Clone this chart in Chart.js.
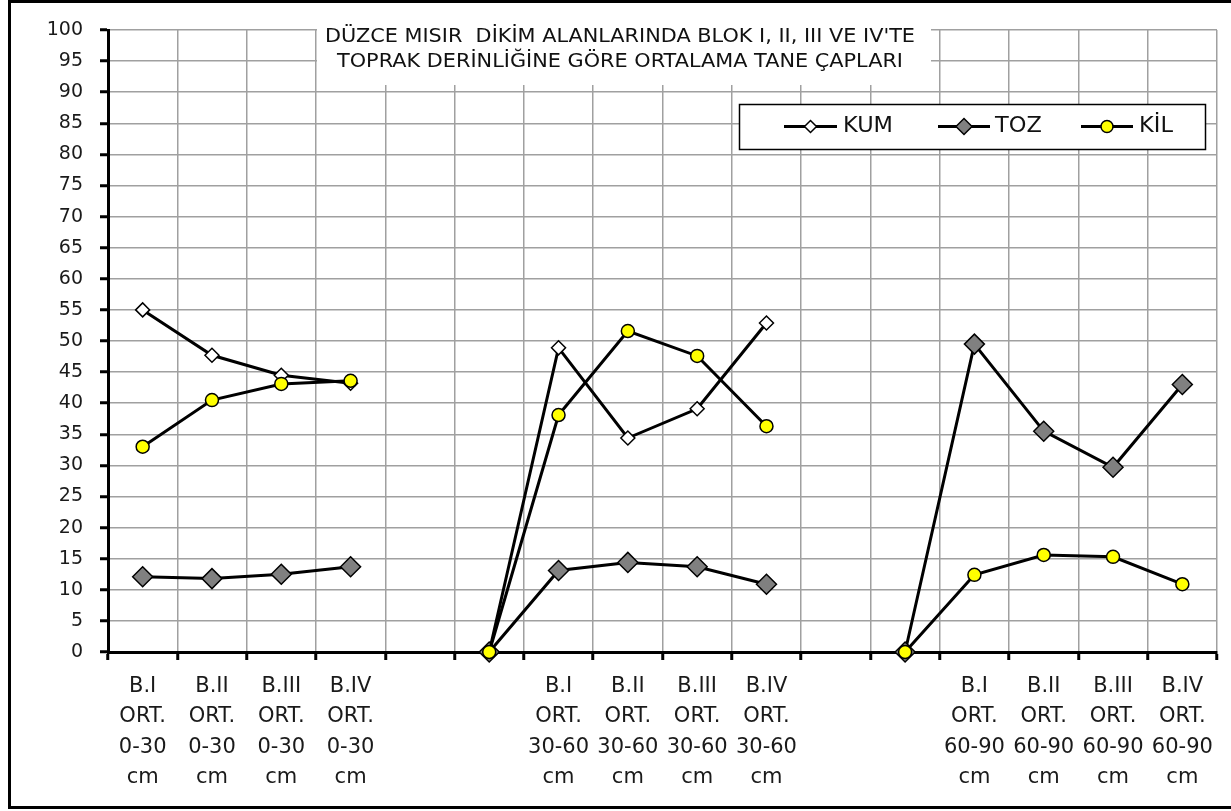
<!DOCTYPE html>
<html>
<head>
<meta charset="utf-8">
<script src="https://cdn.jsdelivr.net/npm/chart.js@4/dist/chart.umd.min.js"></script>
<style>
  html, body { margin: 0; padding: 0; background: #fff; }
  #wrap { width: 1231px; height: 811px; position: relative; }
</style>
</head>
<body>
<div id="wrap"><canvas id="c" width="1231" height="811"></canvas></div>
<script>
// ---- data ----
const titleLines = ["DÜZCE MISIR  DİKİM ALANLARINDA BLOK I, II, III VE IV'TE", "TOPRAK DERİNLİĞİNE GÖRE ORTALAMA TANE ÇAPLARI"];
const seriesNames = ['KUM', 'TOZ', 'KİL'];
const xLabels = [
  ['B.I', 'ORT.', '0-30', 'cm'], ['B.II', 'ORT.', '0-30', 'cm'], ['B.III', 'ORT.', '0-30', 'cm'], ['B.IV', 'ORT.', '0-30', 'cm'],
  '', '',
  ['B.I', 'ORT.', '30-60', 'cm'], ['B.II', 'ORT.', '30-60', 'cm'], ['B.III', 'ORT.', '30-60', 'cm'], ['B.IV', 'ORT.', '30-60', 'cm'],
  '', '',
  ['B.I', 'ORT.', '60-90', 'cm'], ['B.II', 'ORT.', '60-90', 'cm'], ['B.III', 'ORT.', '60-90', 'cm'], ['B.IV', 'ORT.', '60-90', 'cm']
];
const kum = [55.0, 47.7, 44.5, 43.2, null, 0, 48.9, 34.4, 39.1, 52.9, null, null, null, null, null, null];
const toz = [12.1, 11.8, 12.5, 13.7, null, 0, 13.1, 14.4, 13.7, 10.9, null, 0, 49.5, 35.5, 29.7, 43.0];
const kil = [33.0, 40.5, 43.1, 43.6, null, 0, 38.1, 51.6, 47.6, 36.3, null, 0, 12.4, 15.6, 15.3, 10.9];
const yMin = 0, yMax = 100, yStep = 5;

const FONT = '"DejaVu Sans", "Liberation Sans", sans-serif';

const framePlugin = {
  id: 'frame',
  beforeDraw(chart) {
    const ctx = chart.ctx;
    ctx.save();
    ctx.fillStyle = '#fff';
    ctx.fillRect(0, 0, chart.width, chart.height);
    ctx.restore();
  },
  afterDraw(chart) {
    const ctx = chart.ctx;
    ctx.save();
    // title box
    ctx.fillStyle = '#fff';
    ctx.fillRect(317, 18, 614, 67);
    ctx.fillStyle = '#111';
    ctx.font = '19px ' + FONT;
    ctx.textAlign = 'center';
    ctx.textBaseline = 'middle';
    const w0 = ctx.measureText(titleLines[0]).width;
    const sx = 590 / w0;
    const ys = [37.5, 62];
    titleLines.forEach((t, i) => {
      ctx.save();
      ctx.translate(620, ys[i]);
      ctx.scale(sx, 1);
      ctx.fillText(t, 0, 0);
      ctx.restore();
    });

    // legend
    ctx.fillStyle = '#fff';
    ctx.fillRect(739, 104, 466, 45);
    ctx.strokeStyle = '#000';
    ctx.lineWidth = 1.5;
    ctx.strokeRect(739.5, 104.5, 466, 45);
    const ly = 126.5;
    const items = [
      { x0: 784, x1: 837, tx: 843, ds: chart.data.datasets[0], r: 6 },
      { x0: 938, x1: 990, tx: 995, ds: chart.data.datasets[1], r: 8 },
      { x0: 1081, x1: 1133, tx: 1139, ds: chart.data.datasets[2], r: 6 }
    ];
    ctx.font = '21px ' + FONT;
    const kw = ctx.measureText(seriesNames[0]).width;
    const lsx = 50 / kw;
    items.forEach(it => {
      ctx.strokeStyle = '#000';
      ctx.lineWidth = 3;
      ctx.beginPath();
      ctx.moveTo(it.x0, ly);
      ctx.lineTo(it.x1, ly);
      ctx.stroke();
      const cx = (it.x0 + it.x1) / 2;
      ctx.fillStyle = it.ds.pointBackgroundColor;
      ctx.lineWidth = 1.5;
      ctx.beginPath();
      if (it.ds.pointStyle === 'circle') {
        ctx.arc(cx, ly, it.r, 0, Math.PI * 2);
      } else {
        ctx.moveTo(cx - it.r, ly);
        ctx.lineTo(cx, ly - it.r);
        ctx.lineTo(cx + it.r, ly);
        ctx.lineTo(cx, ly + it.r);
        ctx.closePath();
      }
      ctx.fill();
      ctx.stroke();
      ctx.save();
      ctx.fillStyle = '#111';
      ctx.textAlign = 'left';
      ctx.textBaseline = 'middle';
      ctx.translate(it.tx, ly);
      ctx.scale(lsx, 1);
      ctx.fillText(it.ds.label, 0, 0);
      ctx.restore();
    });

    // outer frame
    ctx.strokeStyle = '#000';
    ctx.lineWidth = 3;
    ctx.strokeRect(9.5, 1.5, 1300, 806);
    ctx.restore();
  }
};

const common = {
  borderColor: '#000',
  borderWidth: 3,
  pointBorderColor: '#000',
  pointBorderWidth: 1.5,
  spanGaps: false,
  tension: 0,
  clip: false
};

new Chart(document.getElementById('c'), {
  type: 'line',
  data: {
    labels: xLabels,
    datasets: [
      Object.assign({ label: seriesNames[0], data: kum, pointStyle: 'rectRot', pointRadius: 7, pointBackgroundColor: '#ffffff', order: 2 }, common),
      Object.assign({ label: seriesNames[1], data: toz, pointStyle: 'rectRot', pointRadius: 10, pointBackgroundColor: '#808080', order: 1 }, common),
      Object.assign({ label: seriesNames[2], data: kil, pointStyle: 'circle', pointRadius: 6.5, pointBackgroundColor: '#ffff00', order: 0 }, common)
    ]
  },
  options: {
    responsive: false,
    animation: false,
    devicePixelRatio: 1,
    layout: { padding: { top: 30, right: 14, left: 0, bottom: 0 } },
    plugins: {
      legend: { display: false },
      title: { display: false },
      tooltip: { enabled: false }
    },
    scales: {
      x: {
        type: 'category',
        offset: true,
        grid: { offset: true, color: '#a0a0a0', lineWidth: 1.5, drawTicks: true, tickLength: 8, tickColor: '#000', tickWidth: 3 },
        border: { color: '#000', width: 3 },
        ticks: { autoSkip: false, maxRotation: 0, minRotation: 0, color: '#1a1a1a', padding: 11,
                 font: { family: FONT, size: 21, lineHeight: 1.45 } },
        afterFit(s) { s.height = 159; }
      },
      y: {
        min: yMin, max: yMax,
        grid: { color: '#a0a0a0', lineWidth: 1.5, drawTicks: true, tickLength: 8, tickColor: '#000', tickWidth: 3 },
        border: { color: '#000', width: 3 },
        ticks: { stepSize: yStep, color: '#1a1a1a', padding: 17, font: { family: FONT, size: 19 } },
        afterFit(s) { s.width = 108; }
      }
    }
  },
  plugins: [framePlugin]
});
</script>
</body>
</html>
